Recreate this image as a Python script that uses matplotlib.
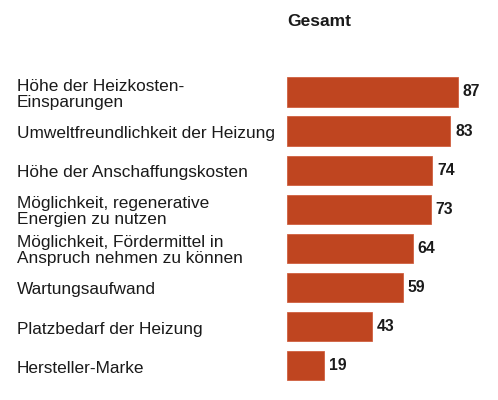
import matplotlib.pyplot as plt
import matplotlib.transforms as mtransforms

plt.rcParams['font.family'] = ['Liberation Sans', 'DejaVu Sans']

# data
labels = [
    "Höhe der Heizkosten-\nEinsparungen",
    "Umweltfreundlichkeit der Heizung",
    "Höhe der Anschaffungskosten",
    "Möglichkeit, regenerative\nEnergien zu nutzen",
    "Möglichkeit, Fördermittel in\nAnspruch nehmen zu können",
    "Wartungsaufwand",
    "Platzbedarf der Heizung",
    "Hersteller-Marke",
]
values = [87, 83, 74, 73, 64, 59, 43, 19]
title = "Gesamt"

bar_color = "#BF4520"

fig = plt.figure(figsize=(4.98, 4.0), dpi=100)
ax = fig.add_axes([0.5763, 0.0367, 0.3948, 0.7822])

pos = list(range(len(values)))
ax.barh(pos, values, height=0.75, color=bar_color, edgecolor="#D06040", linewidth=0.6)
ax.set_xlim(0, 100)
ax.set_ylim(len(values) - 0.5, -0.5)
ax.axis("off")

# value labels
for p, v in zip(pos, values):
    ax.text(v + 2.5, p, str(v), va="center", ha="left", fontsize=11.3,
            fontweight="bold", color="#1a1a1a")

# category labels at the left of the figure
trans = mtransforms.blended_transform_factory(fig.transFigure, ax.transData)
for p, lab in zip(pos, labels):
    ax.text(0.034, p + 0.06, lab, transform=trans, va="center", ha="left",
            fontsize=12.4, color="#1a1a1a", linespacing=1.08)

fig.text(0.576, 1 - 21 / 400, title, ha="left", va="center", fontsize=12.5,
         fontweight="bold", color="#1a1a1a")

fig.savefig("out.png", dpi=100)
